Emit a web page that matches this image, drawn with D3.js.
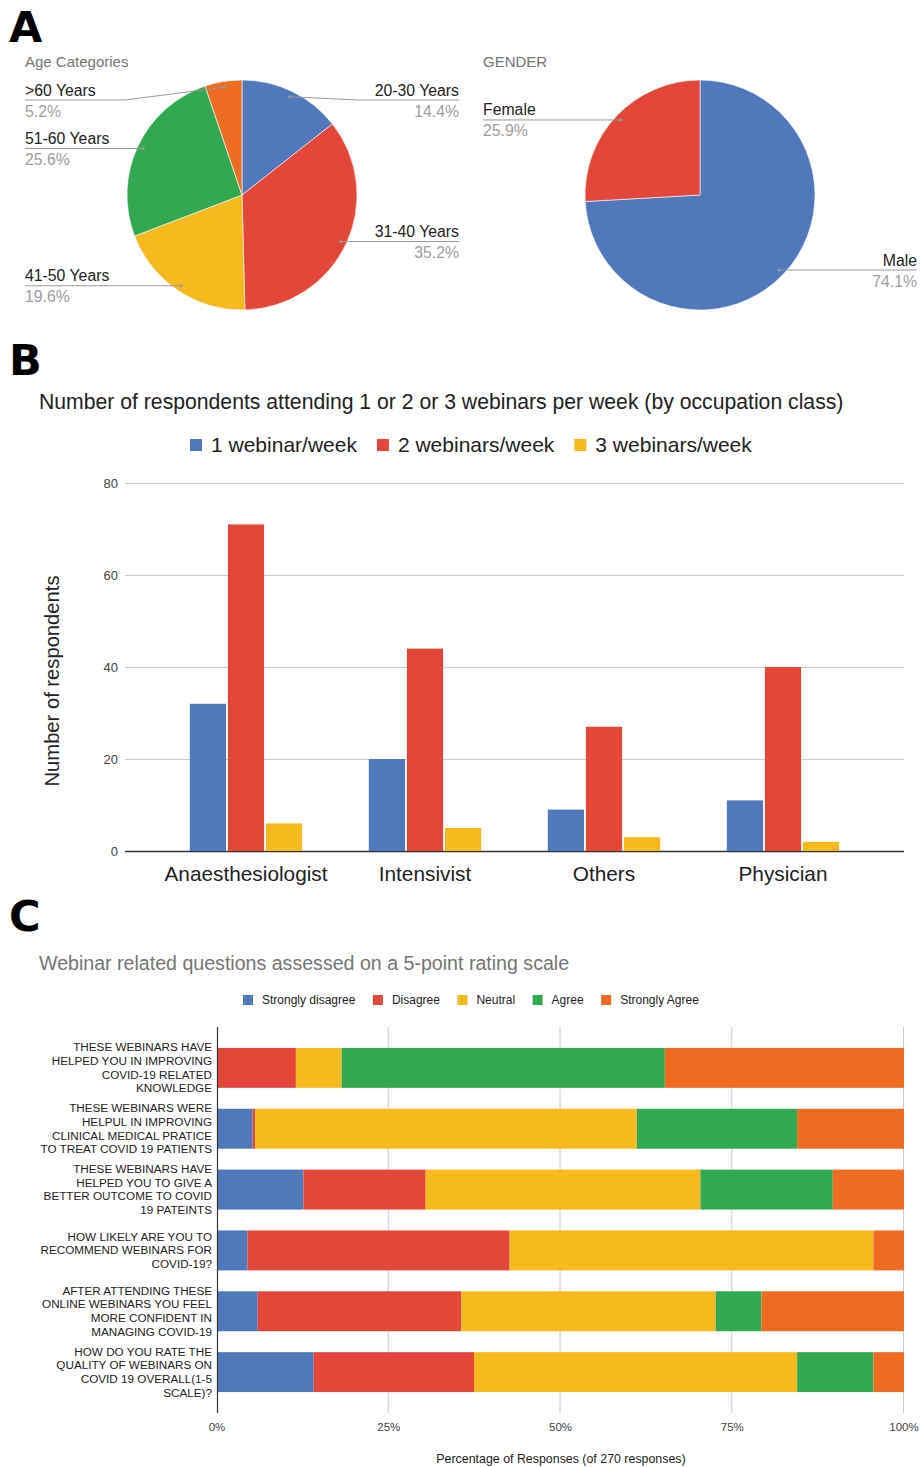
<!DOCTYPE html>
<html>
<head>
<meta charset="utf-8">
<script src="https://cdn.jsdelivr.net/npm/d3@7"></script>
<style>
  body { margin: 0; background: #fff; }
  svg { display: block; font-family: "Liberation Sans", Arial, sans-serif; }
</style>
</head>
<body>
<div id="chart"></div>
<script>
// panel A data
var ageLabels = ["20-30 Years", "31-40 Years", "41-50 Years", "51-60 Years", ">60 Years"];
var agePct = [14.4, 35.2, 19.6, 25.6, 5.2];
var genderLabels = ["Male", "Female"];
var genderPct = [74.1, 25.9];

// panel B data
var occupations = ["Anaesthesiologist", "Intensivist", "Others", "Physician"];
var weekSeries = ["1 webinar/week", "2 webinars/week", "3 webinars/week"];
var oneWeek = [32, 20, 9, 11];
var twoWeek = [71, 44, 27, 40];
var threeWeek = [6, 5, 3, 2];
var countTicks = [0, 20, 40, 60, 80];

// panel C data (counts of 270 responses)
var questions = [
    ["THESE WEBINARS HAVE", "HELPED YOU IN IMPROVING", "COVID-19 RELATED", "KNOWLEDGE"],
    ["THESE WEBINARS WERE", "HELPUL IN IMPROVING", "CLINICAL MEDICAL PRATICE", "TO TREAT COVID 19 PATIENTS"],
    ["THESE WEBINARS HAVE", "HELPED YOU TO GIVE A", "BETTER OUTCOME TO COVID", "19 PATEINTS"],
    ["HOW LIKELY ARE YOU TO", "RECOMMEND WEBINARS FOR", "COVID-19?"],
    ["AFTER ATTENDING THESE", "ONLINE WEBINARS YOU FEEL", "MORE CONFIDENT IN", "MANAGING COVID-19"],
    ["HOW DO YOU RATE THE", "QUALITY OF WEBINARS ON", "COVID 19 OVERALL(1-5", "SCALE)?"]
];
var ratingLevels = ["Strongly disagree", "Disagree", "Neutral", "Agree", "Strongly Agree"];
var stronglyDisagree = [0, 14, 34, 12, 16, 38];
var disagree = [31, 1, 48, 103, 80, 63];
var neutral = [18, 150, 108, 143, 100, 127];
var agree = [127, 63, 52, 0, 18, 30];
var stronglyAgree = [94, 42, 28, 12, 56, 12];
var pctTicks = [0, 0.25, 0.5, 0.75, 1];

var blue = "#5078ba", red = "#e4463a", yellow = "#f6b91e", green = "#33a853", orange = "#ee6b22";

var svg = d3.select("#chart").append("svg")
    .attr("width", 921)
    .attr("height", 1467);

// panel letters
[["A", 42], ["B", 375], ["C", 931]].forEach(function(p) {
    svg.append("text")
        .attr("x", 9).attr("y", p[1])
        .style("font-family", "'DejaVu Sans', sans-serif")
        .style("font-weight", 900)
        .style("font-size", "43px")
        .text(p[0]);
});

//////////////////////////////////////////////////
// pies
function drawPie(title, titleX, cx, cy, R, labels, values, colors, leftX, rightX) {
    svg.append("text")
        .attr("x", titleX).attr("y", 67)
        .style("font-size", "15px").style("fill", "#757575")
        .text(title);

    var pie = d3.pie().sort(null).value(function(d) { return d.v; });
    var arcs = pie(labels.map(function(l, i) { return {label: l, v: values[i], c: colors[i]}; }));
    var arc = d3.arc().innerRadius(0).outerRadius(R);
    var dotArc = d3.arc().innerRadius(R * 0.95).outerRadius(R * 0.95);

    var g = svg.append("g").attr("transform", "translate(" + cx + "," + cy + ")");
    g.selectAll("path.slice").data(arcs).enter().append("path")
        .attr("class", "slice")
        .attr("d", arc)
        .attr("fill", function(d) { return d.data.c; })
        .attr("stroke", "#fff").attr("stroke-width", 0.6);

    var minY = cy - R + 20;
    arcs.forEach(function(d) {
        var c = dotArc.centroid(d),
            dx = cx + c[0], dy = cy + c[1],
            left = (d.startAngle + d.endAngle) / 2 > Math.PI,
            lineY = Math.max(dy, minY),
            edge = left ? leftX : rightX,
            elbow = left ? cx - R - 2 : cx + R + 2;
        var pts = [[dx, dy]];
        if (lineY !== dy) pts.push([elbow, lineY]);
        pts.push([edge, lineY]);
        svg.append("path")
            .attr("d", d3.line()(pts))
            .attr("fill", "none").attr("stroke", "#999").attr("stroke-width", 1);
        svg.append("circle").attr("cx", dx).attr("cy", dy).attr("r", 1.6).attr("fill", "#999");
        svg.append("text")
            .attr("x", edge).attr("y", lineY - 4.5)
            .attr("text-anchor", left ? "start" : "end")
            .style("font-size", "15.8px").style("fill", "#222")
            .text(d.data.label);
        svg.append("text")
            .attr("x", edge).attr("y", lineY + 16.5)
            .attr("text-anchor", left ? "start" : "end")
            .style("font-size", "15.8px").style("fill", "#9e9e9e")
            .text(d.data.v.toFixed(1) + "%");
    });
}

drawPie("Age Categories", 25, 242, 195, 115, ageLabels, agePct, [blue, red, yellow, green, orange], 25, 459);
drawPie("GENDER", 483, 700, 195, 115, genderLabels, genderPct, [blue, red], 483, 917);

//////////////////////////////////////////////////
// panel B grouped bars
svg.append("text")
    .attr("x", 39).attr("y", 409)
    .style("font-size", "21.2px").style("fill", "#222")
    .text("Number of respondents attending 1 or 2 or 3 webinars per week (by occupation class)");

var weekColors = [blue, red, yellow];
var weekValues = [oneWeek, twoWeek, threeWeek];

var lgB = svg.append("g");
var lx = 190;
weekSeries.forEach(function(s, i) {
    lgB.append("rect").attr("x", lx).attr("y", 439).attr("width", 12).attr("height", 12).attr("fill", weekColors[i]);
    var t = lgB.append("text").attr("x", lx + 21).attr("y", 452)
        .style("font-size", "21px").style("fill", "#222").text(s);
    lx += 21 + t.node().getComputedTextLength() + 20;
});

var x0 = d3.scaleBand().domain(occupations).range([125, 904]).paddingOuter(0.176);
var x1 = d3.scaleBand().domain(weekSeries).range([0, x0.bandwidth()]).paddingInner(0.05).paddingOuter(0.875);
var yB = d3.scaleLinear().domain([0, 80]).range([851, 483]);

svg.append("g").selectAll("line").data(countTicks).enter().append("line")
    .attr("x1", 125).attr("x2", 904)
    .attr("y1", function(d) { return yB(d) + 0.5; }).attr("y2", function(d) { return yB(d) + 0.5; })
    .attr("stroke", function(d) { return d === 0 ? "#333" : "#ccc"; })
    .attr("stroke-width", function(d) { return d === 0 ? 1.3 : 1; });

svg.append("g").selectAll("text").data(countTicks).enter().append("text")
    .attr("x", 118).attr("y", function(d) { return yB(d) + 4.5; })
    .attr("text-anchor", "end")
    .style("font-size", "13px").style("fill", "#444")
    .text(function(d) { return d; });

occupations.forEach(function(o, i) {
    var g = svg.append("g").attr("transform", "translate(" + x0(o) + ",0)");
    g.selectAll("rect").data(weekSeries).enter().append("rect")
        .attr("x", function(s) { return x1(s); })
        .attr("width", x1.bandwidth())
        .attr("y", function(s, j) { return yB(weekValues[j][i]); })
        .attr("height", function(s, j) { return yB(0) - yB(weekValues[j][i]); })
        .attr("fill", function(s, j) { return weekColors[j]; });
});

svg.append("g").selectAll("text").data(occupations).enter().append("text")
    .attr("x", function(d) { return x0(d) + x0.bandwidth() / 2; })
    .attr("y", 881)
    .attr("text-anchor", "middle")
    .style("font-size", "20.8px").style("fill", "#222")
    .text(function(d) { return d; });

svg.append("text")
    .attr("transform", "translate(59,681)rotate(-90)")
    .attr("text-anchor", "middle")
    .style("font-size", "20.2px").style("fill", "#222")
    .text("Number of respondents");

//////////////////////////////////////////////////
// panel C stacked 100% bars
svg.append("text")
    .attr("x", 39).attr("y", 970)
    .style("font-size", "19.6px").style("fill", "#757575")
    .text("Webinar related questions assessed on a 5-point rating scale");

var ratingColors = [blue, red, yellow, green, orange];
var lgC = svg.append("g");
lx = 243;
ratingLevels.forEach(function(s, i) {
    lgC.append("rect").attr("x", lx).attr("y", 995).attr("width", 10).attr("height", 10).attr("fill", ratingColors[i]);
    var t = lgC.append("text").attr("x", lx + 19).attr("y", 1004)
        .style("font-size", "12px").style("fill", "#222").text(s);
    lx += 19 + t.node().getComputedTextLength() + 17.5;
});

var rows = questions.map(function(q, i) {
    return {i: i, "Strongly disagree": stronglyDisagree[i], "Disagree": disagree[i],
            "Neutral": neutral[i], "Agree": agree[i], "Strongly Agree": stronglyAgree[i]};
});
var stacked = d3.stack().keys(ratingLevels).offset(d3.stackOffsetExpand)(rows);

var xC = d3.scaleLinear().domain([0, 1]).range([217, 904]);
var yC = d3.scaleBand().domain(d3.range(questions.length)).range([1027, 1413]).paddingInner(0.344).paddingOuter(0.344);

svg.append("g").selectAll("line").data(pctTicks.slice(1)).enter().append("line")
    .attr("x1", function(d) { return xC(d) - 0.5; }).attr("x2", function(d) { return xC(d) - 0.5; })
    .attr("y1", 1027).attr("y2", 1413)
    .attr("stroke", "#ccc");

stacked.forEach(function(layer, k) {
    svg.append("g").selectAll("rect").data(layer).enter().append("rect")
        .attr("x", function(d) { return xC(d[0]); })
        .attr("width", function(d) { return xC(d[1]) - xC(d[0]); })
        .attr("y", function(d) { return yC(d.data.i); })
        .attr("height", yC.bandwidth())
        .attr("fill", ratingColors[k]);
});

svg.append("line")
    .attr("x1", 217.5).attr("x2", 217.5).attr("y1", 1027).attr("y2", 1413)
    .attr("stroke", "#333").attr("stroke-width", 1.2);

svg.append("g").selectAll("text").data(pctTicks).enter().append("text")
    .attr("x", function(d) { return xC(d); })
    .attr("y", 1431)
    .attr("text-anchor", "middle")
    .style("font-size", "11.5px").style("fill", "#444")
    .text(function(d) { return Math.round(d * 100) + "%"; });

questions.forEach(function(lines, i) {
    var cy = yC(i) + yC.bandwidth() / 2,
        lh = 13.7,
        top = cy - (lines.length - 1) * lh / 2;
    var t = svg.append("text")
        .attr("text-anchor", "end")
        .style("font-size", "11.7px").style("fill", "#222");
    lines.forEach(function(l, j) {
        t.append("tspan").attr("x", 212).attr("y", top + j * lh + 4).text(l);
    });
});

svg.append("text")
    .attr("x", 561).attr("y", 1463)
    .attr("text-anchor", "middle")
    .style("font-size", "12.4px").style("fill", "#222")
    .text("Percentage of Responses (of 270 responses)");
</script>
</body>
</html>
